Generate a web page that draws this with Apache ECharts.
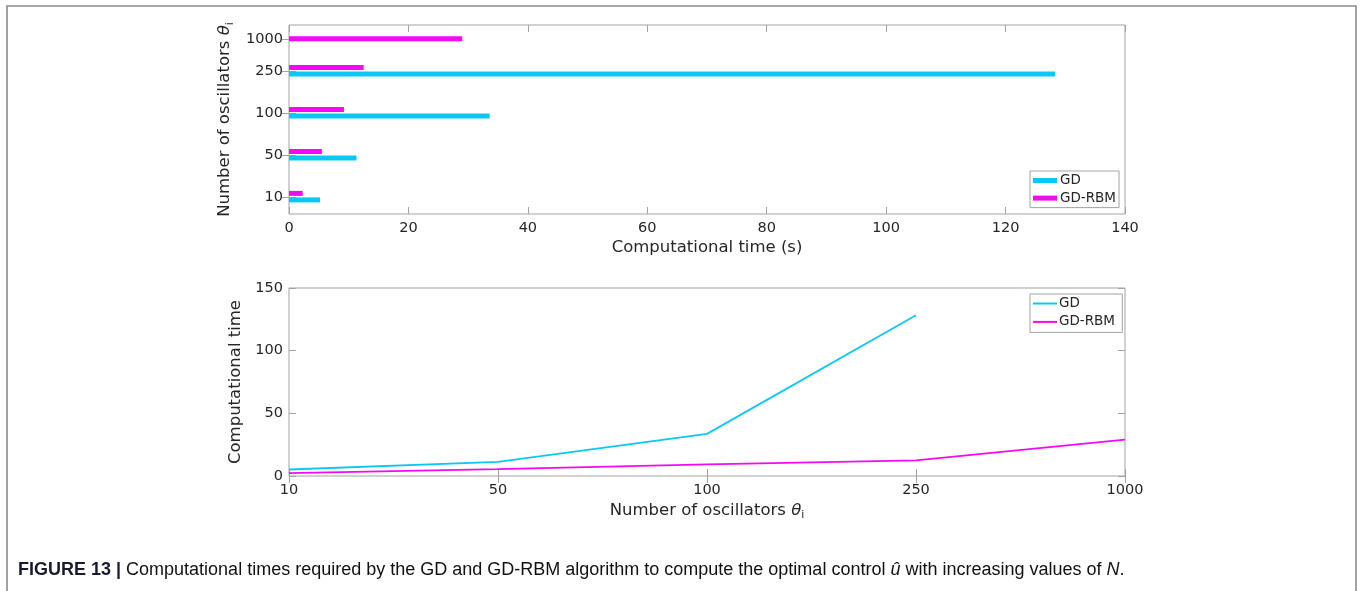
<!DOCTYPE html>
<html>
<head>
<meta charset="utf-8">
<script src="https://cdn.jsdelivr.net/npm/echarts@6/dist/echarts.min.js"></script>
<style>
html,body{margin:0;padding:0;background:#fff;}
#chart{width:1360px;height:591px;}
</style>
</head>
<body>
<div id="chart"></div>
<script>
// ---- data ----
const oscillators = ['10', '50', '100', '250', '1000'];
const barSlots = [1, 2, 3, 4, 4.77];           // vertical slot of each group in the bar panel
const gdTime = [5.2, 11.3, 33.6, 128.3, null];  // GD computational time (s)
const rbmTime = [2.3, 5.5, 9.2, 12.5, 29.0];    // GD-RBM computational time (s)
const timeTicks = [0, 20, 40, 60, 80, 100, 120, 140];
const lineTicks = [0, 50, 100, 150];
const seriesNames = ['GD', 'GD-RBM'];

const CYAN = '#0ac8f2';
const MAGENTA = '#f20af2';
const AXIS = '#a3a3a3';
const TXT = '#262626';
const FONT = 'DejaVu Sans';

const chart = echarts.init(document.getElementById('chart'), null, {renderer: 'canvas'});

function barRender(color, isGD) {
  return function (params, api) {
    const val = api.value(0), slot = api.value(1), idx = api.value(2);
    const p0 = api.coord([0, slot]);
    const p1 = api.coord([val, slot]);
    const other = isGD ? rbmTime[idx] : gdTime[idx];
    let y;
    if (other == null) y = p0[1] - 2.5;
    else y = isGD ? p0[1] + 0.2 : p0[1] - 6.3;
    return {
      type: 'rect',
      shape: {x: p0[0], y: y, width: p1[0] - p0[0], height: 5},
      style: {fill: color}
    };
  };
}

const gdBarData = [], rbmBarData = [];
gdTime.forEach((v, i) => { if (v != null) gdBarData.push([v, barSlots[i], i]); });
rbmTime.forEach((v, i) => { if (v != null) rbmBarData.push([v, barSlots[i], i]); });

const labelStyle = {color: TXT, fontSize: 14.5, fontFamily: FONT};
const nameRich = {
  n: {fontSize: 16.5, fontFamily: FONT, color: TXT},
  t: {fontSize: 16.5, fontFamily: FONT, color: TXT, fontStyle: 'italic'},
  s: {fontSize: 11, fontFamily: FONT, color: TXT, padding: [10, 0, 0, 0]}
};
const tickIn = {show: true, inside: true, length: 7, lineStyle: {color: AXIS, width: 1}};
const noLine = {show: false};
const legendText = {color: TXT, fontSize: 13.5, fontFamily: FONT, lineHeight: 15};

const option = {
  animation: false,
  backgroundColor: '#fff',
  grid: [
    {left: 289, right: 235, top: 25, height: 189, show: true, borderColor: AXIS, borderWidth: 1, backgroundColor: '#fff'},
    {left: 289, right: 235, top: 288, height: 188, show: true, borderColor: AXIS, borderWidth: 1, backgroundColor: '#fff'}
  ],
  xAxis: [
    {
      gridIndex: 0, type: 'value', position: 'bottom', min: timeTicks[0], max: timeTicks[timeTicks.length - 1], interval: 20,
      axisLine: noLine, axisTick: tickIn, splitLine: {show: false},
      axisLabel: Object.assign({margin: 7}, labelStyle),
      name: 'Computational time (s)', nameLocation: 'middle', nameGap: 25,
      nameTextStyle: {color: TXT, fontSize: 16.5, fontFamily: FONT}
    },
    {
      gridIndex: 0, type: 'value', position: 'top', min: 0, max: 140, interval: 20,
      axisLine: noLine, axisTick: tickIn, splitLine: {show: false}, axisLabel: {show: false}
    },
    {
      gridIndex: 1, type: 'category', position: 'bottom', data: oscillators, boundaryGap: false,
      axisLine: noLine, axisTick: tickIn, splitLine: {show: false},
      axisLabel: Object.assign({margin: 7}, labelStyle),
      name: '{n|Number of oscillators }{t|θ}{s|i}', nameLocation: 'middle', nameGap: 24,
      nameTextStyle: {rich: nameRich}
    },
    {
      gridIndex: 1, type: 'category', position: 'top', data: oscillators, boundaryGap: false,
      axisLine: noLine, axisTick: tickIn, splitLine: {show: false}, axisLabel: {show: false}
    }
  ],
  yAxis: [
    {
      gridIndex: 0, type: 'value', position: 'left', min: 0.6, max: 5.1,
      axisLine: noLine, splitLine: {show: false},
      axisTick: Object.assign({customValues: barSlots}, tickIn),
      axisLabel: Object.assign({
        margin: 6, customValues: barSlots,
        formatter: function (v) { const k = barSlots.indexOf(v); return k >= 0 ? oscillators[k] : ''; }
      }, labelStyle),
      name: '{n|Number of oscillators }{t|θ}{s|i}', nameLocation: 'middle', nameGap: 46, nameRotate: 90,
      nameTextStyle: {rich: nameRich}
    },
    {
      gridIndex: 0, type: 'value', position: 'right', min: 0.6, max: 5.1,
      axisLine: noLine, splitLine: {show: false},
      axisTick: Object.assign({customValues: barSlots}, tickIn),
      axisLabel: {show: false}
    },
    {
      gridIndex: 1, type: 'value', position: 'left', min: lineTicks[0], max: lineTicks[lineTicks.length - 1], interval: 50,
      axisLine: noLine, axisTick: tickIn, splitLine: {show: false},
      axisLabel: Object.assign({margin: 6}, labelStyle),
      name: 'Computational time', nameLocation: 'middle', nameGap: 27, nameRotate: 90,
      nameTextStyle: {color: TXT, fontSize: 16.5, fontFamily: FONT}
    },
    {
      gridIndex: 1, type: 'value', position: 'right', min: 0, max: 150, interval: 50,
      axisLine: noLine, axisTick: tickIn, splitLine: {show: false}, axisLabel: {show: false}
    }
  ],
  legend: [
    {
      left: 1030, top: 171, orient: 'vertical', align: 'left',
      backgroundColor: '#fff', borderColor: AXIS, borderWidth: 1, padding: [2, 3, 2, 3],
      itemWidth: 24, itemHeight: 5, itemGap: 2.6, itemStyle: {borderWidth: 0},
      textStyle: Object.assign({padding: [0, 0, 0, -2]}, legendText),
      data: [
        {name: seriesNames[0], icon: 'rect', itemStyle: {color: CYAN}},
        {name: seriesNames[1], icon: 'rect', itemStyle: {color: MAGENTA}}
      ]
    },
    {
      left: 1030, top: 294, orient: 'vertical', align: 'left',
      backgroundColor: '#fff', borderColor: AXIS, borderWidth: 1, padding: [2, 3, 3, 3],
      itemWidth: 24, itemHeight: 2, itemGap: 3.4, itemStyle: {borderWidth: 0},
      textStyle: Object.assign({padding: [0, 0, 0, -3]}, legendText),
      data: [
        {name: seriesNames[0] + ' ', icon: 'rect', itemStyle: {color: CYAN}},
        {name: seriesNames[1] + ' ', icon: 'rect', itemStyle: {color: MAGENTA}}
      ]
    }
  ],
  series: [
    {
      name: seriesNames[0], type: 'custom', xAxisIndex: 0, yAxisIndex: 0,
      itemStyle: {color: CYAN}, encode: {x: 0, y: 1},
      renderItem: barRender(CYAN, true), data: gdBarData
    },
    {
      name: seriesNames[1], type: 'custom', xAxisIndex: 0, yAxisIndex: 0,
      itemStyle: {color: MAGENTA}, encode: {x: 0, y: 1},
      renderItem: barRender(MAGENTA, false), data: rbmBarData
    },
    {
      name: seriesNames[0] + ' ', type: 'line', xAxisIndex: 2, yAxisIndex: 2,
      symbol: 'none', lineStyle: {color: CYAN, width: 1.8}, itemStyle: {color: CYAN},
      data: gdTime.map(v => v == null ? '-' : v)
    },
    {
      name: seriesNames[1] + ' ', type: 'line', xAxisIndex: 2, yAxisIndex: 2,
      symbol: 'none', lineStyle: {color: MAGENTA, width: 1.8}, itemStyle: {color: MAGENTA},
      data: rbmTime
    }
  ],
  graphic: [
    {
      type: 'polyline', silent: true,
      shape: {points: [[7, 600], [7, 6], [1356, 6], [1356, 600]]},
      style: {stroke: '#8a8a8a', lineWidth: 1.6, fill: null}
    },
    {
      type: 'text', left: 18, top: 561,
      style: {
        text: '{b|FIGURE 13 |} Computational times required by the GD and GD-RBM algorithm to compute the optimal control {i|û} with increasing values of {i|N}.',
        font: '18px "Liberation Sans"', fill: '#111',
        rich: {
          b: {fontWeight: 'bold', fontSize: 18, fontFamily: 'Liberation Sans', fill: '#1a1a2e'},
          i: {fontStyle: 'italic', fontSize: 18, fontFamily: 'Liberation Sans', fill: '#111'}
        }
      }
    }
  ]
};
chart.setOption(option);
</script>
</body>
</html>
